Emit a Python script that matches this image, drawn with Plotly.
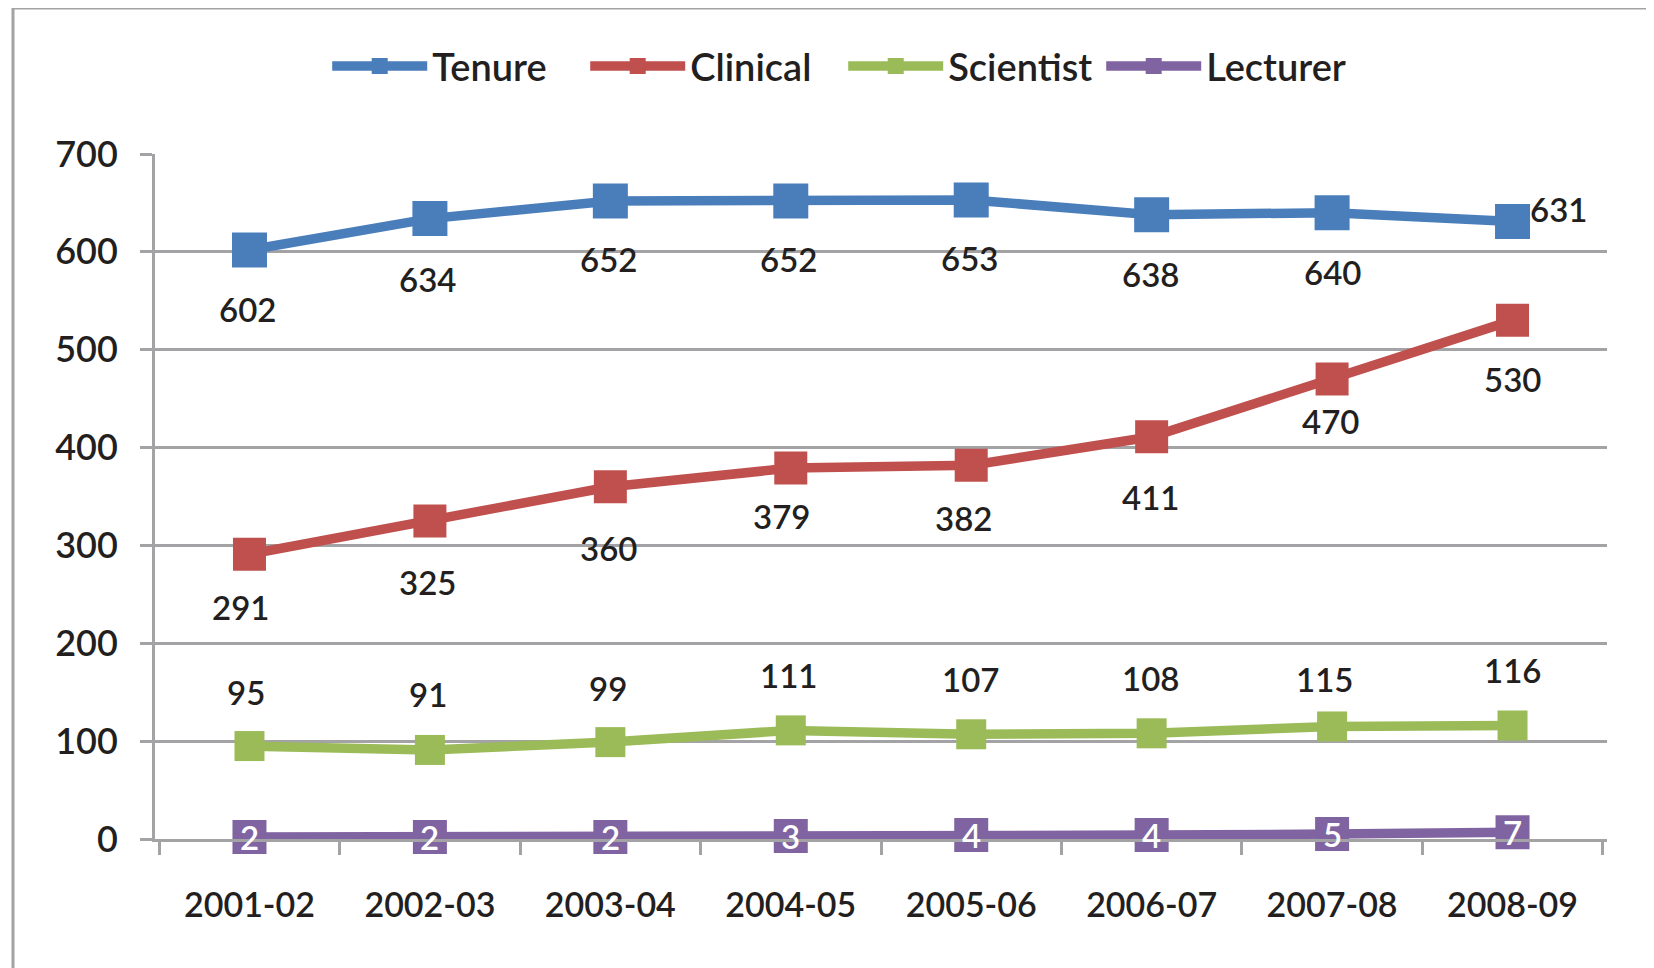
import plotly.graph_objects as go

# ---- data ----
years = ["2001-02", "2002-03", "2003-04", "2004-05", "2005-06", "2006-07", "2007-08", "2008-09"]
tenure = [602, 634, 652, 652, 653, 638, 640, 631]
clinical = [291, 325, 360, 379, 382, 411, 470, 530]
scientist = [95, 91, 99, 111, 107, 108, 115, 116]
lecturer = [2, 2, 2, 3, 4, 4, 5, 7]
y_ticks = [0, 100, 200, 300, 400, 500, 600, 700]

# ---- label offsets (pixels, relative to each point; +dy = below) ----
tenure_dx = [-2, -2, -2, -2, -2, -1, 0, 46]
tenure_dy = [59, 60, 58, 58, 58, 59, 59, -13]
clinical_dx = [-9, -2, -2, -9, -8, -1, -2, 0]
clinical_dy = [53, 61, 61, 48, 53, 60, 42, 59]
scientist_dx = [-3, -2, -2, -2, -1, -1, -8, 0]
scientist_dy = [-54, -56, -54, -55, -55, -55, -47, -55]
lecturer_dx = [0] * 8
lecturer_dy = [0] * 8

series = [
    ("Tenure", tenure, "#4a7ebb", 35, tenure_dx, tenure_dy, "#231f20"),
    ("Clinical", clinical, "#c0504d", 33, clinical_dx, clinical_dy, "#231f20"),
    ("Scientist", scientist, "#9bbb59", 30, scientist_dx, scientist_dy, "#231f20"),
    ("Lecturer", lecturer, "#8064a2", 34, lecturer_dx, lecturer_dy, "#ffffff"),
]

LABEL_FONT = "Lato, 'Open Sans', sans-serif"
LEGEND_FONT = "Lato, 'Open Sans', sans-serif"
GRID = "#a3a3a6"
TXT = "#231f20"

fig = go.Figure()
annotations = []
for name, vals, color, msize, dxs, dys, tcolor in series:
    fig.add_trace(go.Scatter(
        x=years, y=vals, name=name, mode="lines+markers",
        line=dict(color=color, width=9.5),
        marker=dict(symbol="square", size=msize, color=color, line=dict(width=0)),
        cliponaxis=False,
    ))
    for xv, yv, dx, dy in zip(years, vals, dxs, dys):
        annotations.append(dict(
            x=xv, y=yv, xref="x", yref="y", text=str(yv), showarrow=False,
            xshift=dx, yshift=-dy, xanchor="center", yanchor="middle",
            font=dict(family=LABEL_FONT, size=33, color=tcolor, weight=600),
        ))

fig.update_layout(
    width=1646, height=960,
    margin=dict(l=147, r=47, t=146, b=129),
    paper_bgcolor="white", plot_bgcolor="white",
    showlegend=True,
    legend=dict(
        orientation="h", x=0.1186, xanchor="left", y=1.128, yanchor="middle",
        font=dict(family=LEGEND_FONT, size=38, color=TXT, weight=600),
        itemwidth=95, itemsizing="trace", tracegroupgap=0,
        entrywidth=148, entrywidthmode="pixels",
        bgcolor="rgba(0,0,0,0)",
    ),
    annotations=annotations,
    shapes=[dict(
        type="rect", xref="paper", yref="paper",
        x0=-0.0978, x1=1.2, y0=-0.4, y1=1.2131,
        line=dict(color=GRID, width=3), fillcolor="rgba(0,0,0,0)", layer="below",
    )],
)

fig.update_xaxes(
    type="category", categoryorder="array", categoryarray=years,
    showgrid=False, showline=True, linecolor=GRID, linewidth=3,
    ticks="outside", tickson="boundaries", ticklen=13, tickwidth=3, tickcolor=GRID,
    tickfont=dict(family=LABEL_FONT, size=34, color=TXT, weight=600),
    ticklabelstandoff=34,
)
fig.update_yaxes(
    range=[0, 700], tickvals=y_ticks, ticktext=[str(v) for v in y_ticks],
    showgrid=True, gridcolor=GRID, gridwidth=3,
    zeroline=False, showline=True, linecolor=GRID, linewidth=3,
    ticks="outside", ticklen=12, tickwidth=3, tickcolor=GRID,
    tickfont=dict(family=LABEL_FONT, size=36, color=TXT, weight=600),
    ticklabelstandoff=15,
)

fig.write_html("out.html")
